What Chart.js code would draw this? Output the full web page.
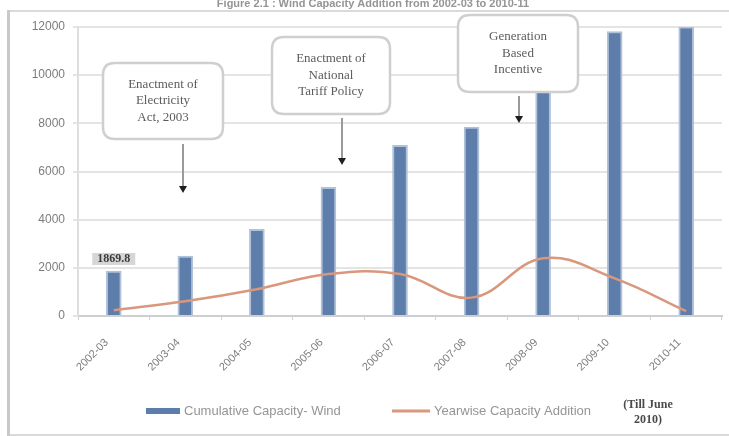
<!DOCTYPE html>
<html>
<head>
<meta charset="utf-8">
<script src="https://cdn.jsdelivr.net/npm/chart.js@4/dist/chart.umd.min.js"></script>
<style>
  html, body { margin: 0; padding: 0; background: #fff; }
  canvas { display: block; }
</style>
</head>
<body>
<canvas id="windChart" width="729" height="436"></canvas>
<script>
// ---- data ----
const categories = ['2002-03', '2003-04', '2004-05', '2005-06', '2006-07', '2007-08', '2008-09', '2009-10', '2010-11'];
const cumulativeWind = [1869.8, 2483, 3595, 5340, 7082, 7845, 10242, 11807, 12009];
const yearlyAddition = [242, 613, 1112, 1745, 1742, 763, 2397, 1565, 202];
const yTicks = [0, 2000, 4000, 6000, 8000, 10000, 12000];
const seriesNames = ['Cumulative Capacity- Wind', 'Yearwise Capacity Addition'];
const milestones = [
  ['Enactment of', 'Electricity', 'Act, 2003'],
  ['Enactment of', 'National', 'Tariff Policy'],
  ['Generation', 'Based', 'Incentive']
];
const titleText = 'Figure 2.1 : Wind Capacity Addition from 2002-03 to 2010-11';
const noteText = ['(Till June', '2010)'];

const BAR_BLUE = '#5d7daa';
const LINE_ORANGE = '#d9977d';

function roundRect(ctx, x, y, w, h, r) {
  ctx.beginPath();
  ctx.moveTo(x + r, y);
  ctx.lineTo(x + w - r, y);
  ctx.quadraticCurveTo(x + w, y, x + w, y + r);
  ctx.lineTo(x + w, y + h - r);
  ctx.quadraticCurveTo(x + w, y + h, x + w - r, y + h);
  ctx.lineTo(x + r, y + h);
  ctx.quadraticCurveTo(x, y + h, x, y + h - r);
  ctx.lineTo(x, y + r);
  ctx.quadraticCurveTo(x, y, x + r, y);
  ctx.closePath();
}

// callout boxes with arrows pointing at the policy milestones
const calloutGeometry = [
  { x: 103, y: 63, w: 120, h: 76, ax: 183, ay0: 144, ay1: 193 },
  { x: 272, y: 37, w: 118, h: 77, ax: 342, ay0: 118, ay1: 165 },
  { x: 458, y: 15, w: 120, h: 77, ax: 519, ay0: 96, ay1: 123 }
];

const decorPlugin = {
  id: 'decor',
  beforeDraw(chart) {
    const ctx = chart.ctx;
    ctx.save();
    ctx.fillStyle = '#ffffff';
    ctx.fillRect(0, 0, chart.width, chart.height);
    // outer frame
    ctx.strokeStyle = '#dadada';
    ctx.lineWidth = 2;
    ctx.strokeRect(8, 11, chart.width + 20, 424);
    ctx.fillStyle = '#c9c9c9';
    ctx.fillRect(7, 10, 3, 426);
    // caption
    ctx.font = 'bold 11px "Liberation Sans", Arial, sans-serif';
    ctx.fillStyle = '#959595';
    ctx.textAlign = 'center';
    ctx.textBaseline = 'middle';
    ctx.fillText(titleText, 373, 4);
    ctx.restore();
  },
  afterDatasetsDraw(chart) {
    const ctx = chart.ctx;
    const xs = chart.scales.x, ys = chart.scales.y;
    ctx.save();
    // value label on the first bar
    const bx = xs.getPixelForValue(0);
    const by = ys.getPixelForValue(cumulativeWind[0]);
    const label = cumulativeWind[0].toFixed(1);
    ctx.font = 'bold 12px "Liberation Serif", "Times New Roman", serif';
    const tw = ctx.measureText(label).width;
    ctx.fillStyle = '#d6d6d6';
    ctx.fillRect(bx - tw / 2 - 5, by - 18, tw + 10, 12);
    ctx.fillStyle = '#3c3c3c';
    ctx.textAlign = 'center';
    ctx.textBaseline = 'middle';
    ctx.fillText(label, bx, by - 12);

    // callouts
    calloutGeometry.forEach((g, i) => {
      // connector
      ctx.strokeStyle = '#9a9a9a';
      ctx.lineWidth = 2;
      ctx.beginPath();
      ctx.moveTo(g.ax, g.ay0);
      ctx.lineTo(g.ax, g.ay1 - 5);
      ctx.stroke();
      ctx.fillStyle = '#1e1e1e';
      ctx.beginPath();
      ctx.moveTo(g.ax - 4, g.ay1 - 7);
      ctx.lineTo(g.ax + 4, g.ay1 - 7);
      ctx.lineTo(g.ax, g.ay1);
      ctx.closePath();
      ctx.fill();
      // box
      roundRect(ctx, g.x, g.y, g.w, g.h, 12);
      ctx.fillStyle = '#ffffff';
      ctx.fill();
      ctx.strokeStyle = '#cfcfcf';
      ctx.lineWidth = 2.5;
      ctx.stroke();
      // text
      ctx.font = '13px "Liberation Serif", "Times New Roman", serif';
      ctx.fillStyle = '#5c5c5c';
      ctx.textAlign = 'center';
      ctx.textBaseline = 'middle';
      const lines = milestones[i];
      const step = 16.5;
      const cy = g.y + g.h / 2;
      lines.forEach((t, k) => {
        ctx.fillText(t, g.x + g.w / 2, cy + (k - (lines.length - 1) / 2) * step);
      });
    });
    ctx.restore();
  },
  afterDraw(chart) {
    const ctx = chart.ctx;
    ctx.save();
    const ly = 411;
    ctx.fillStyle = BAR_BLUE;
    ctx.fillRect(146, ly - 3, 34, 6);
    ctx.font = '13px "Liberation Sans", Arial, sans-serif';
    ctx.fillStyle = '#959595';
    ctx.textAlign = 'left';
    ctx.textBaseline = 'middle';
    ctx.fillText(seriesNames[0], 184, ly);
    ctx.strokeStyle = LINE_ORANGE;
    ctx.lineWidth = 3;
    ctx.beginPath();
    ctx.moveTo(392, ly);
    ctx.lineTo(430, ly);
    ctx.stroke();
    ctx.fillText(seriesNames[1], 434, ly);
    // footnote for the last year
    ctx.font = 'bold 12px "Liberation Serif", "Times New Roman", serif';
    ctx.fillStyle = '#4a4a4a';
    ctx.textAlign = 'center';
    ctx.fillText(noteText[0], 648, 405);
    ctx.fillText(noteText[1], 648, 420);
    ctx.restore();
  }
};

new Chart(document.getElementById('windChart'), {
  data: {
    labels: categories,
    datasets: [
      {
        type: 'line',
        label: seriesNames[1],
        data: yearlyAddition,
        borderColor: LINE_ORANGE,
        borderWidth: 2.5,
        tension: 0.4,
        pointRadius: 0,
        fill: false,
        order: 0
      },
      {
        type: 'bar',
        label: seriesNames[0],
        data: cumulativeWind,
        backgroundColor: BAR_BLUE,
        borderColor: 'rgba(168,186,212,0.9)',
        borderWidth: 2,
        barThickness: 15,
        order: 1
      }
    ]
  },
  options: {
    responsive: false,
    animation: false,
    layout: { padding: { top: 27, right: 7, left: 0, bottom: 0 } },
    plugins: {
      legend: { display: false },
      tooltip: { enabled: false },
      title: { display: false }
    },
    scales: {
      x: {
        grid: { display: true, drawOnChartArea: false, offset: true, tickLength: 4, color: '#cfcfcf', lineWidth: 1 },
        border: { color: '#cfcfcf', width: 2 },
        ticks: {
          minRotation: 45, maxRotation: 45, autoSkip: false,
          padding: 16, labelOffset: -7,
          color: '#7d7d7d',
          font: { family: '"Liberation Sans", Arial, sans-serif', size: 11 }
        },
        afterFit(scale) { scale.height = 120; }
      },
      y: {
        min: 0, max: 12000,
        afterBuildTicks(scale) { scale.ticks = yTicks.map(v => ({ value: v })); },
        grid: { color: '#e4e4e4', lineWidth: 2, tickLength: 5 },
        border: { color: '#dedede', width: 2 },
        ticks: {
          padding: 8,
          color: '#7d7d7d',
          font: { family: '"Liberation Sans", Arial, sans-serif', size: 12 },
          callback: v => String(v)
        },
        afterFit(scale) { scale.width = 78; }
      }
    }
  },
  plugins: [decorPlugin]
});
</script>
</body>
</html>
